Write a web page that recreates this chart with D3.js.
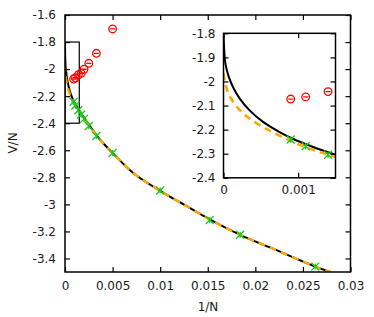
<!DOCTYPE html>
<html>
<head>
<meta charset="utf-8">
<script src="https://cdn.jsdelivr.net/npm/d3@7"></script>
<style>
  body { margin: 0; background: #fff; }
  text { font-family: "DejaVu Sans", sans-serif; font-size: 12px; fill: #1a1a1a; }
</style>
</head>
<body>
<script>
(function() {
    var w = 374;
    var h = 317;

    // 1/N values shared by both marker series
    var invN = [0.0009, 0.0011, 0.0014, 0.0017, 0.0020, 0.0025, 0.0033, 0.0050, 0.0100, 0.0152, 0.0184, 0.0263];
    var greenV = [-2.241, -2.269, -2.304, -2.335, -2.368, -2.420, -2.495, -2.620, -2.898, -3.115, -3.225, -3.460];
    var redV = [-2.073, -2.064, -2.042, -2.031, -2.001, -1.957, -1.883, -1.703];

    // solid black curve
    var blackX = [0, 0.00001, 0.000025, 0.00007, 0.00013, 0.00022, 0.00035, 0.00053, 0.00075, 0.00098, 0.0012, 0.00146,
                  0.0021, 0.0028, 0.0036, 0.005, 0.0072, 0.01, 0.0132, 0.0153, 0.0184, 0.0216, 0.0263, 0.0279];
    var blackY = [-1.80, -1.87, -1.925, -1.98, -2.025, -2.072, -2.12, -2.168, -2.21, -2.245, -2.272, -2.30,
                  -2.37, -2.44, -2.515, -2.62, -2.77, -2.90, -3.03, -3.115, -3.225, -3.32, -3.46, -3.50];

    // dashed orange curve
    var orangeX = [0, 0.000023, 0.000066, 0.00013, 0.00022, 0.00035, 0.00053, 0.00075, 0.00098, 0.0012, 0.00146,
                   0.0021, 0.0028, 0.0036, 0.005, 0.0072, 0.01, 0.0132, 0.0153, 0.0184, 0.0216, 0.0263, 0.0279];
    var orangeY = [-1.966, -2.008, -2.05, -2.085, -2.119, -2.154, -2.189, -2.225, -2.258, -2.284, -2.31,
                   -2.375, -2.443, -2.517, -2.62, -2.77, -2.90, -3.03, -3.115, -3.225, -3.32, -3.46, -3.50];

    var mainXTicks = [0, 0.005, 0.01, 0.015, 0.02, 0.025, 0.03];
    var mainYTicks = [-1.6, -1.8, -2, -2.2, -2.4, -2.6, -2.8, -3, -3.2, -3.4];
    var insetXTicks = [0, 0.001];
    var insetYTicks = [-1.8, -1.9, -2, -2.1, -2.2, -2.3, -2.4];

    var fmt = function(d) { return String(d); };

    var svg = d3.select("body").append("svg").attr("width", w).attr("height", h);

    function panel(g, x, y, xt, yt, id, opts) {
        var x0 = x.range()[0], x1 = x.range()[1], y0 = y.range()[0], y1 = y.range()[1];

        g.append("rect").attr("x", x0).attr("y", y1).attr("width", x1 - x0).attr("height", y0 - y1)
            .attr("fill", "#fff");

        g.append("clipPath").attr("id", id).append("rect")
            .attr("x", x0).attr("y", y1).attr("width", x1 - x0).attr("height", y0 - y1);

        var plot = g.append("g").attr("clip-path", "url(#" + id + ")");

        var line = d3.line().curve(d3.curveCatmullRom.alpha(0.5));
        var bl = blackX.map(function(d, i) { return [x(d), y(blackY[i])]; });
        var ol = orangeX.map(function(d, i) { return [x(d), y(orangeY[i])]; });

        plot.append("path").attr("d", line(bl)).attr("fill", "none")
            .attr("stroke", "#000").attr("stroke-width", 2);
        plot.append("path").attr("d", line(ol)).attr("fill", "none")
            .attr("stroke", "#ffa500").attr("stroke-width", 2.5).attr("stroke-dasharray", "7,5");

        // zoom box (main only)
        if (opts.box) {
            plot.append("rect")
                .attr("x", x(0)).attr("y", y(-1.8))
                .attr("width", x(0.0015) - x(0)).attr("height", y(-2.4) - y(-1.8))
                .attr("fill", "none").attr("stroke", "#000").attr("stroke-width", 1.2);
        }

        // green crosses
        var gp = plot.selectAll("g.gr").data(invN).enter().append("g")
            .attr("transform", function(d, i) { return "translate(" + x(d) + "," + y(greenV[i]) + ")"; })
            .attr("stroke", "#1ec81e").attr("stroke-width", 1.3).attr("fill", "none");
        gp.append("path").attr("d", "M-4,-4L4,4M-4,4L4,-4M0,-3L0,3");

        // red circles
        var rp = plot.selectAll("g.rd").data(redV).enter().append("g")
            .attr("transform", function(d, i) { return "translate(" + x(invN[i]) + "," + y(d) + ")"; })
            .attr("stroke", "#ff0000").attr("stroke-width", 1.3).attr("fill", "none");
        rp.append("circle").attr("r", 3.8);
        rp.append("path").attr("d", "M-2.5,0L2.5,0");

        // axes, gnuplot style inward ticks
        var ax = function(a) { return a.tickSizeInner(-5).tickSizeOuter(0); };
        g.append("g").attr("transform", "translate(0," + y0 + ")")
            .call(ax(d3.axisBottom(x)).tickValues(xt).tickFormat(fmt).tickPadding(opts.pad));
        g.append("g").attr("transform", "translate(" + x0 + ",0)")
            .call(ax(d3.axisLeft(y)).tickValues(yt).tickFormat(fmt).tickPadding(opts.pad));
        g.append("g").attr("transform", "translate(0," + y1 + ")")
            .call(ax(d3.axisTop(x)).tickValues(xt).tickFormat(""));
        g.append("g").attr("transform", "translate(" + x1 + ",0)")
            .call(ax(d3.axisRight(y)).tickValues(yt).tickFormat(""));

        g.selectAll(".tick line").attr("stroke", "#000").attr("stroke-width", 1.2);
        g.selectAll(".domain").remove();
        g.selectAll(".tick text").attr("font-family", null).attr("font-size", null).attr("fill", null);

        g.append("rect").attr("x", x0).attr("y", y1).attr("width", x1 - x0).attr("height", y0 - y1)
            .attr("fill", "none").attr("stroke", "#000").attr("stroke-width", 1.5);
    }

    var xMain = d3.scaleLinear().domain([0, 0.03]).range([65, 350.5]);
    var yMain = d3.scaleLinear().domain([-3.5, -1.6]).range([272, 15]);
    panel(svg.append("g"), xMain, yMain, mainXTicks, mainYTicks, "clipMain", { box: true, pad: 9 });

    var xIn = d3.scaleLinear().domain([0, 0.0015]).range([223.5, 335.5]);
    var yIn = d3.scaleLinear().domain([-2.4, -1.8]).range([177.8, 33.3]);
    panel(svg.append("g"), xIn, yIn, insetXTicks, insetYTicks, "clipInset", { box: false, pad: 8 });

    svg.append("text").attr("x", 208).attr("y", 311).attr("text-anchor", "middle").text("1/N");
    svg.append("text").attr("transform", "translate(17,143) rotate(-90)")
        .attr("text-anchor", "middle").text("V/N");
})();
</script>
</body>
</html>
